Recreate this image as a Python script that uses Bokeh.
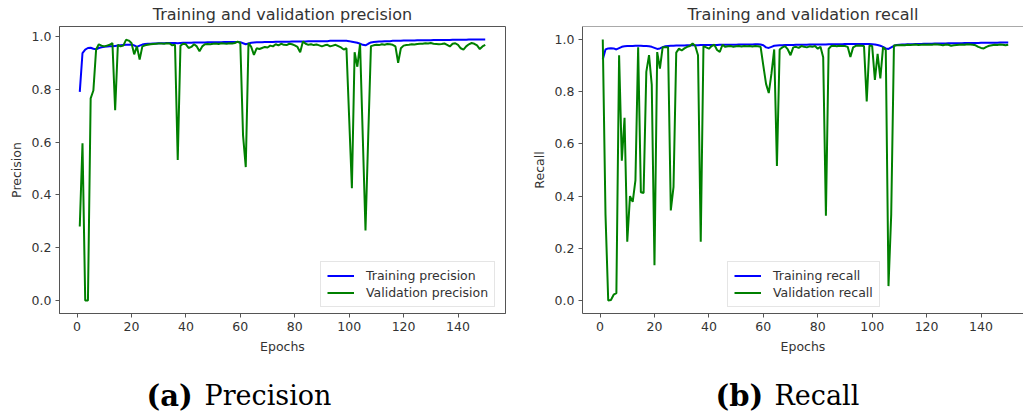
from bokeh.plotting import figure
from bokeh.models import ColumnDataSource, Range1d, FixedTicker, PrintfTickFormatter, Span
from bokeh.layouts import row, column
from bokeh.core.properties import value
from bokeh.embed import file_html
from bokeh.resources import INLINE

epochs = list(range(1, 151))

train_precision = [
    0.790, 0.937, 0.950, 0.956, 0.957, 0.953, 0.951, 0.956, 0.959, 0.961,
    0.962, 0.963, 0.963, 0.964, 0.965, 0.966, 0.967, 0.968, 0.968, 0.969,
    0.966, 0.960, 0.965, 0.969, 0.971, 0.972, 0.972, 0.973, 0.973, 0.974,
    0.974, 0.974, 0.975, 0.975, 0.975, 0.975, 0.974, 0.975, 0.976, 0.976,
    0.976, 0.976, 0.977, 0.977, 0.977, 0.977, 0.977, 0.978, 0.978, 0.978,
    0.978, 0.978, 0.978, 0.979, 0.979, 0.979, 0.979, 0.979, 0.979, 0.978,
    0.974, 0.970, 0.973, 0.976, 0.977, 0.978, 0.978, 0.978, 0.979, 0.979,
    0.979, 0.979, 0.980, 0.980, 0.980, 0.980, 0.980, 0.980, 0.981, 0.981,
    0.981, 0.981, 0.981, 0.981, 0.982, 0.982, 0.982, 0.982, 0.982, 0.982,
    0.982, 0.982, 0.983, 0.983, 0.983, 0.983, 0.983, 0.983, 0.983, 0.982,
    0.980, 0.978, 0.976, 0.972, 0.968, 0.966, 0.972, 0.977, 0.979, 0.980,
    0.981, 0.981, 0.982, 0.982, 0.982, 0.983, 0.983, 0.983, 0.983, 0.984,
    0.984, 0.984, 0.984, 0.984, 0.985, 0.985, 0.985, 0.985, 0.985, 0.985,
    0.986, 0.986, 0.986, 0.986, 0.986, 0.986, 0.986, 0.987, 0.987, 0.987,
    0.987, 0.987, 0.987, 0.988, 0.988, 0.988, 0.988, 0.988, 0.988, 0.988,
]

val_precision = [
    0.280, 0.595, 0.000, 0.000, 0.765, 0.795, 0.950, 0.970, 0.965, 0.962,
    0.965, 0.968, 0.975, 0.720, 0.968, 0.962, 0.965, 0.987, 0.984, 0.975,
    0.932, 0.962, 0.912, 0.962, 0.966, 0.968, 0.970, 0.971, 0.972, 0.973,
    0.973, 0.972, 0.974, 0.973, 0.966, 0.968, 0.532, 0.965, 0.972, 0.970,
    0.956, 0.960, 0.970, 0.962, 0.944, 0.962, 0.970, 0.971, 0.970, 0.972,
    0.973, 0.971, 0.974, 0.973, 0.972, 0.974, 0.973, 0.975, 0.980, 0.975,
    0.625, 0.505, 0.975, 0.960, 0.930, 0.955, 0.952, 0.956, 0.960, 0.958,
    0.965, 0.962, 0.970, 0.966, 0.972, 0.968, 0.967, 0.972, 0.970, 0.966,
    0.960, 0.940, 0.981, 0.972, 0.968, 0.970, 0.967, 0.969, 0.966, 0.962,
    0.966, 0.968, 0.962, 0.965, 0.968, 0.963, 0.958, 0.950, 0.955, 0.690,
    0.425, 0.940, 0.885, 0.972, 0.620, 0.265, 0.620, 0.963, 0.966, 0.968,
    0.967, 0.970, 0.968, 0.971, 0.970, 0.968, 0.962, 0.900, 0.955, 0.965,
    0.967, 0.968, 0.970, 0.969, 0.971, 0.972, 0.972, 0.974, 0.973, 0.975,
    0.972, 0.971, 0.970, 0.971, 0.973, 0.968, 0.962, 0.972, 0.974, 0.968,
    0.955, 0.950, 0.962, 0.970, 0.975, 0.972, 0.966, 0.952, 0.962, 0.968,
]

train_recall = [
    0.924, 0.962, 0.966, 0.967, 0.966, 0.962, 0.967, 0.972, 0.974, 0.975,
    0.975, 0.975, 0.976, 0.976, 0.976, 0.975, 0.975, 0.974, 0.972, 0.968,
    0.964, 0.966, 0.971, 0.974, 0.975, 0.976, 0.976, 0.977, 0.977, 0.977,
    0.977, 0.978, 0.978, 0.978, 0.978, 0.978, 0.979, 0.979, 0.979, 0.979,
    0.979, 0.979, 0.979, 0.980, 0.980, 0.980, 0.980, 0.980, 0.980, 0.980,
    0.981, 0.981, 0.981, 0.981, 0.981, 0.981, 0.982, 0.982, 0.981, 0.978,
    0.970, 0.968, 0.972, 0.976, 0.977, 0.978, 0.978, 0.979, 0.979, 0.979,
    0.979, 0.980, 0.980, 0.980, 0.980, 0.980, 0.981, 0.981, 0.981, 0.981,
    0.981, 0.981, 0.981, 0.982, 0.982, 0.982, 0.982, 0.982, 0.982, 0.983,
    0.983, 0.983, 0.983, 0.983, 0.983, 0.983, 0.983, 0.983, 0.983, 0.982,
    0.981, 0.979, 0.976, 0.972, 0.966, 0.964, 0.970, 0.976, 0.979, 0.980,
    0.981, 0.981, 0.982, 0.982, 0.982, 0.983, 0.983, 0.983, 0.984, 0.984,
    0.984, 0.984, 0.985, 0.985, 0.985, 0.985, 0.985, 0.986, 0.986, 0.986,
    0.986, 0.986, 0.986, 0.987, 0.987, 0.987, 0.987, 0.987, 0.987, 0.988,
    0.988, 0.988, 0.988, 0.988, 0.988, 0.988, 0.989, 0.989, 0.989, 0.989,
]

val_recall = [
    1.000, 0.330, 0.000, 0.002, 0.022, 0.028, 0.940, 0.536, 0.700, 0.225,
    0.400, 0.378, 0.460, 0.970, 0.415, 0.412, 0.876, 0.940, 0.826, 0.135,
    0.952, 0.889, 0.970, 0.970, 0.970, 0.345, 0.435, 0.950, 0.965, 0.958,
    0.966, 0.972, 0.975, 0.985, 0.975, 0.940, 0.225, 0.975, 0.970, 0.965,
    0.975, 0.980, 0.960, 0.953, 0.980, 0.972, 0.974, 0.975, 0.972, 0.974,
    0.975, 0.973, 0.975, 0.974, 0.975, 0.973, 0.975, 0.974, 0.972, 0.900,
    0.830, 0.795, 0.870, 0.962, 0.515, 0.962, 0.970, 0.975, 0.962, 0.940,
    0.970, 0.972, 0.968, 0.975, 0.972, 0.970, 0.974, 0.972, 0.975, 0.965,
    0.972, 0.932, 0.325, 0.965, 0.975, 0.976, 0.974, 0.976, 0.975, 0.975,
    0.972, 0.933, 0.970, 0.976, 0.977, 0.976, 0.975, 0.763, 0.977, 0.975,
    0.845, 0.945, 0.851, 0.971, 0.960, 0.055, 0.330, 0.977, 0.978, 0.978,
    0.979, 0.978, 0.980, 0.979, 0.980, 0.981, 0.979, 0.980, 0.981, 0.980,
    0.981, 0.980, 0.982, 0.981, 0.980, 0.978, 0.981, 0.980, 0.976, 0.978,
    0.979, 0.980, 0.981, 0.980, 0.982, 0.981, 0.980, 0.978, 0.972, 0.968,
    0.966, 0.972, 0.976, 0.978, 0.980, 0.979, 0.981, 0.980, 0.978, 0.980,
]

x_ticks = [0, 20, 40, 60, 80, 100, 120, 140]
y_ticks = [0.0, 0.2, 0.4, 0.6, 0.8, 1.0]

caption_tags = ["(a)", "(b)"]
caption_texts = ["Precision", "Recall"]

TEXT = "#333333"
SPINE = "#555555"
FONT = "DejaVu Sans"
BLUE = "#0000ff"
GREEN = "#008000"


def padded(values):
    lo, hi = min(values), max(values)
    pad = 0.05 * (hi - lo)
    return lo - pad, hi + pad


def make_panel(train, val, title, ylabel, train_lbl, val_lbl, width,
               mb_left, mb_right, frame_w, full_frame_w, legend_x, open_right):
    x0, x1 = padded(epochs)
    # frame cut at the picture edge -> cut the range at the same scale
    x1 = x0 + (x1 - x0) * frame_w / full_frame_w
    y0, y1 = padded(train + val)
    p = figure(width=width, height=360, output_backend="svg", toolbar_location=None,
               x_range=Range1d(x0, x1), y_range=Range1d(y0, y1),
               min_border_left=mb_left, min_border_right=mb_right,
               min_border_top=24, min_border_bottom=47,
               background_fill_color="white", border_fill_color="white")
    p.title.text = title
    p.title.text_font = FONT
    p.title.text_font_size = "16px"
    p.title.text_font_style = "normal"
    p.title.text_color = TEXT
    p.title.align = "center"
    p.title.standoff = 5
    p.xgrid.visible = False
    p.ygrid.visible = False
    if open_right:
        p.outline_line_color = None
        p.add_layout(Span(location=y1, dimension="width", line_color=SPINE, line_width=1))
    else:
        p.outline_line_color = SPINE
        p.outline_line_width = 1
    src = ColumnDataSource(dict(x=epochs, train=train, val=val))
    p.line("x", "train", source=src, line_color=BLUE, line_width=2, legend_label=train_lbl)
    p.line("x", "val", source=src, line_color=GREEN, line_width=2, legend_label=val_lbl)

    for ax in (p.xaxis[0], p.yaxis[0]):
        ax.axis_line_color = SPINE
        ax.major_tick_line_color = SPINE
        ax.major_tick_out = 4
        ax.major_tick_in = 0
        ax.minor_tick_line_color = None
        ax.major_label_text_font = FONT
        ax.major_label_text_font_size = "12.5px"
        ax.major_label_text_color = TEXT
        ax.axis_label_text_font = FONT
        ax.axis_label_text_font_size = "12.5px"
        ax.axis_label_text_font_style = "normal"
        ax.axis_label_text_color = TEXT
        ax.major_label_standoff = 4
        ax.axis_label_standoff = 5
    p.xaxis[0].ticker = FixedTicker(ticks=x_ticks)
    p.yaxis[0].ticker = FixedTicker(ticks=y_ticks)
    p.yaxis[0].formatter = PrintfTickFormatter(format="%.1f")
    p.xaxis[0].axis_label = "Epochs"
    p.yaxis[0].axis_label = ylabel

    lg = p.legend[0]
    lg.location = (legend_x, 6)
    lg.label_text_font = FONT
    lg.label_text_font_size = "12.5px"
    lg.label_text_color = TEXT
    lg.glyph_width = 27
    lg.glyph_height = 11
    lg.label_height = 11
    lg.label_standoff = 12
    lg.spacing = 2
    lg.padding = 6
    lg.margin = 0
    lg.border_line_color = "#cccccc"
    lg.border_line_width = 1
    lg.background_fill_color = "white"
    lg.background_fill_alpha = 0.8
    return p


left = make_panel(train_precision, val_precision, "Training and validation precision", "Precision",
                  "Training precision", "Validation precision", 528, 59, 23, 446, 446, 261, False)
right = make_panel(train_recall, val_recall, "Training and validation recall", "Recall",
                   "Training recall", "Validation recall", 495, 54, 0, 441, 446, 145, True)

# caption strip (pixel coordinates, y grows downward)
cap = figure(width=1023, height=58, output_backend="svg", toolbar_location=None,
             x_range=Range1d(0, 1023), y_range=Range1d(58, 0),
             min_border=0, outline_line_color=None,
             background_fill_color="white", border_fill_color="white")
cap.axis.visible = False
cap.xgrid.visible = False
cap.ygrid.visible = False
cap_src = ColumnDataSource(dict(tag=caption_tags, txt=caption_texts,
                                tx=[146, 715], wx=[204, 774], y=[35, 35]))
cap.text(x="tx", y="y", text="tag", source=cap_src, text_font=value("DejaVu Serif"),
         text_font_size="29px", text_font_style="bold", text_color="black",
         text_baseline="alphabetic", text_align="left")
cap.text(x="wx", y="y", text="txt", source=cap_src, text_font=value("DejaVu Serif"),
         text_font_size="27px", text_font_style="normal", text_color="black",
         text_baseline="alphabetic", text_align="left")

layout = column(row(left, right, spacing=0), cap, spacing=0)
open("out.html", "w").write(file_html(layout, INLINE))
